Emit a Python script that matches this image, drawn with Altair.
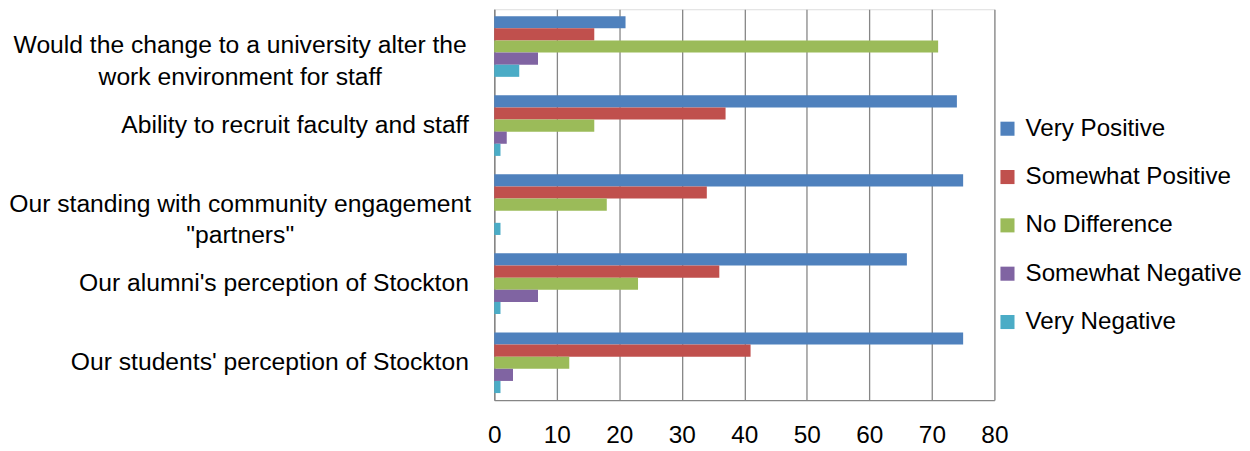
import altair as alt
import pandas as pd

categories = [
    "Would the change to a university alter the\nwork environment for staff",
    "Ability to recruit faculty and staff",
    "Our standing with community engagement\n\"partners\"",
    "Our alumni's perception of Stockton",
    "Our students' perception of Stockton",
]
responses = ["Very Positive", "Somewhat Positive", "No Difference", "Somewhat Negative", "Very Negative"]
colors = ["#4F81BD", "#C0504D", "#9BBB59", "#8064A2", "#4BACC6"]

very_positive = [21, 74, 75, 66, 75]
somewhat_positive = [16, 37, 34, 36, 41]
no_difference = [71, 16, 18, 23, 12]
somewhat_negative = [7, 2, 0, 7, 3]
very_negative = [4, 1, 1, 1, 1]

series = [very_positive, somewhat_positive, no_difference, somewhat_negative, very_negative]
rows = []
for resp, vals in zip(responses, series):
    for cat, v in zip(categories, vals):
        rows.append({"question": cat, "response": resp, "value": v})
df = pd.DataFrame(rows)

FONT = "Liberation Sans"
GRAY = "#868686"

multi = "indexof(datum.value, '\\n') >= 0"

chart = alt.Chart(df).mark_bar().encode(
    x=alt.X(
        "value:Q",
        scale=alt.Scale(domain=[0, 80], nice=False),
        axis=alt.Axis(
            title=None,
            values=[0, 10, 20, 30, 40, 50, 60, 70, 80],
            grid=True,
            gridColor=GRAY,
            gridWidth=1.3,
            domainColor=GRAY,
            domainWidth=1.3,
            ticks=False,
            tickSize=0,
            labelFontSize=24.5,
            labelColor="#000000",
            labelPadding=24,
            labelFlush=False,
            labelFont=FONT,
        ),
    ),
    y=alt.Y(
        "question:N",
        sort=categories,
        scale=alt.Scale(paddingInner=0.233, paddingOuter=0.088),
        axis=alt.Axis(
            title=None,
            ticks=False,
            tickSize=0,
            domainColor=GRAY,
            domainWidth=1.3,
            labelExpr="split(datum.label, '\\n')",
            labelFontSize=24.8,
            labelColor="#000000",
            labelFont=FONT,
            labelLineHeight=32,
            labelLimit=600,
            labelAlign={"expr": multi + " ? 'center' : 'right'"},
            labelPadding={"expr": multi + " ? 256 : 26"},
            minExtent=488,
            maxExtent=488,
        ),
    ),
    yOffset=alt.YOffset(
        "response:N",
        sort=responses,
        scale=alt.Scale(paddingInner=0, paddingOuter=0),
    ),
    color=alt.Color(
        "response:N",
        sort=responses,
        scale=alt.Scale(domain=responses, range=colors),
        legend=alt.Legend(
            title=None,
            orient="none",
            legendX=504,
            legendY=108,
            symbolType="square",
            symbolSize=200,
            symbolStrokeWidth=0,
            labelFontSize=24.3,
            labelFont=FONT,
            labelColor="#000000",
            labelOffset=6,
            rowPadding=23.6,
            padding=0,
            labelLimit=400,
        ),
    ),
).properties(
    width=503,
    height=393,
    padding=0,
).configure_view(
    stroke=None
).configure(
    font=FONT
)

chart.save("out.html", embed_options={"renderer": "svg", "actions": False})
